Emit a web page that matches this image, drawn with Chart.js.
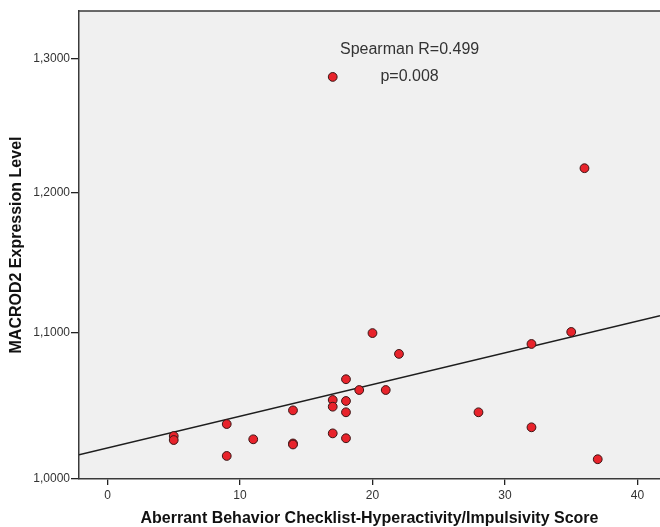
<!DOCTYPE html>
<html>
<head>
<meta charset="utf-8">
<script src="https://cdn.jsdelivr.net/npm/chart.js@4.4.1/dist/chart.umd.min.js"></script>
<style>
  html, body { margin: 0; padding: 0; background: #ffffff; }
  #wrap { width: 660px; height: 527px; }
</style>
</head>
<body>
<div id="wrap"><canvas id="c" width="660" height="527"></canvas></div>
<script>
// ---- Data ----
const scores = [17, 36, 35, 20, 32, 22, 18, 19, 21, 17, 18, 17, 14, 18, 28, 9, 32, 17, 5, 18, 11, 5, 14, 14, 9, 37];
const levels = [1.2863, 1.2179, 1.1003, 1.0995, 1.0919, 1.0850, 1.0675, 1.0601, 1.0601, 1.0533, 1.0526, 1.0487, 1.0462, 1.0449, 1.0449, 1.0369, 1.0347, 1.0306, 1.0288, 1.0273, 1.0266, 1.0261, 1.0238, 1.0231, 1.0154, 1.0132];
const fitX = [-2.15, 41.7];
const fitY = [1.0162, 1.1117];
const xTicks = [0, 10, 20, 30, 40];
const yTicks = [1.0, 1.1, 1.2, 1.3];
const statLines = ['Spearman R=0.499', 'p=0.008'];

const X_MIN = -2.15, X_MAX = 41.7, Y_MIN = 1.0, Y_MAX = 1.337;

// Custom scale: value axis spaced on ln(v+1), as in the reference
class TransformedScale extends Chart.LinearScale {
  _t(v) { return Math.log(v + 1); }
  getPixelForValue(value) {
    if (value === null || value === undefined) return NaN;
    const t0 = this._t(this.min), t1 = this._t(this.max);
    return this.getPixelForDecimal((this._t(value) - t0) / (t1 - t0));
  }
  getValueForPixel(pixel) {
    const t0 = this._t(this.min), t1 = this._t(this.max);
    const d = this.getDecimalForPixel(pixel);
    return Math.exp(t0 + d * (t1 - t0)) - 1;
  }
}
TransformedScale.id = 'transformed';
TransformedScale.defaults = Chart.LinearScale.defaults;
Chart.register(TransformedScale);

const points = scores.map((s, i) => ({ x: s, y: levels[i] }));
const fitLine = fitX.map((x, i) => ({ x: x, y: fitY[i] }));

const bgPlugin = {
  id: 'plotBg',
  beforeDraw(chart) {
    const { ctx, chartArea: a } = chart;
    ctx.save();
    ctx.fillStyle = '#f0f0f0';
    ctx.fillRect(a.left, a.top, a.right - a.left, a.bottom - a.top);
    ctx.strokeStyle = '#3a3a3a';
    ctx.lineWidth = 1.5;
    ctx.beginPath();
    ctx.moveTo(a.left, a.top);
    ctx.lineTo(a.right, a.top);
    ctx.stroke();
    ctx.restore();
  },
  afterDatasetsDraw(chart) {
    const { ctx, scales } = chart;
    const cx = scales.x.getPixelForValue(22.8);
    const y1 = scales.y.getPixelForValue(1.3069);
    const y2 = scales.y.getPixelForValue(1.2865);
    ctx.save();
    ctx.fillStyle = '#333333';
    ctx.font = '16px "Liberation Sans", Arial, sans-serif';
    ctx.textAlign = 'center';
    ctx.textBaseline = 'middle';
    ctx.fillText(statLines[0], cx, y1);
    ctx.fillText(statLines[1], cx, y2);
    ctx.restore();
  }
};

new Chart(document.getElementById('c'), {
  type: 'scatter',
  data: {
    datasets: [
      {
        label: 'Fit',
        type: 'line',
        data: fitLine,
        borderColor: '#1e1e1e',
        borderWidth: 1.4,
        pointRadius: 0,
        fill: false,
        order: 2
      },
      {
        label: 'Cases',
        data: points,
        backgroundColor: '#e8232b',
        borderColor: '#3b1616',
        borderWidth: 1,
        pointRadius: 4.4,
        order: 1
      }
    ]
  },
  options: {
    responsive: false,
    devicePixelRatio: 1,
    animation: false,
    layout: { autoPadding: false, padding: { top: 11, right: 0, left: 0, bottom: 0 } },
    plugins: { legend: { display: false }, tooltip: { enabled: false } },
    scales: {
      x: {
        type: 'linear',
        min: X_MIN,
        max: X_MAX,
        afterBuildTicks(scale) { scale.ticks = xTicks.map(v => ({ value: v })); },
        afterFit(scale) { scale.height = 48; scale.paddingLeft = 0; scale.paddingRight = 0; },
        grid: { drawOnChartArea: false, drawTicks: true, tickLength: 6, color: '#222', lineWidth: 1.3 },
        border: { display: true, color: '#3a3a3a', width: 1.5 },
        ticks: {
          color: '#333',
          font: { family: '"Liberation Sans", Arial, sans-serif', size: 12 },
          padding: 3,
          callback: v => String(v)
        },
        title: {
          display: true,
          text: 'Aberrant Behavior Checklist-Hyperactivity/Impulsivity Score',
          color: '#111',
          font: { family: '"Liberation Sans", Arial, sans-serif', size: 16, weight: 'bold', lineHeight: 1 },
          padding: { top: 0, bottom: 0 }
        }
      },
      y: {
        type: 'transformed',
        min: Y_MIN,
        max: Y_MAX,
        afterBuildTicks(scale) { scale.ticks = yTicks.map(v => ({ value: v })); },
        afterFit(scale) { scale.width = 79; scale.paddingTop = 0; scale.paddingBottom = 0; },
        grid: { drawOnChartArea: false, drawTicks: true, tickLength: 8, color: '#222', lineWidth: 1.3 },
        border: { display: true, color: '#3a3a3a', width: 1.5 },
        ticks: {
          color: '#333',
          font: { family: '"Liberation Sans", Arial, sans-serif', size: 12 },
          padding: 1,
          callback: v => v.toFixed(4).replace('.', ',')
        },
        title: {
          display: true,
          text: 'MACROD2 Expression Level',
          color: '#111',
          font: { family: '"Liberation Sans", Arial, sans-serif', size: 16, weight: 'bold', lineHeight: 1 },
          padding: { top: 9, bottom: 0 }
        }
      }
    }
  },
  plugins: [bgPlugin]
});
</script>
</body>
</html>
